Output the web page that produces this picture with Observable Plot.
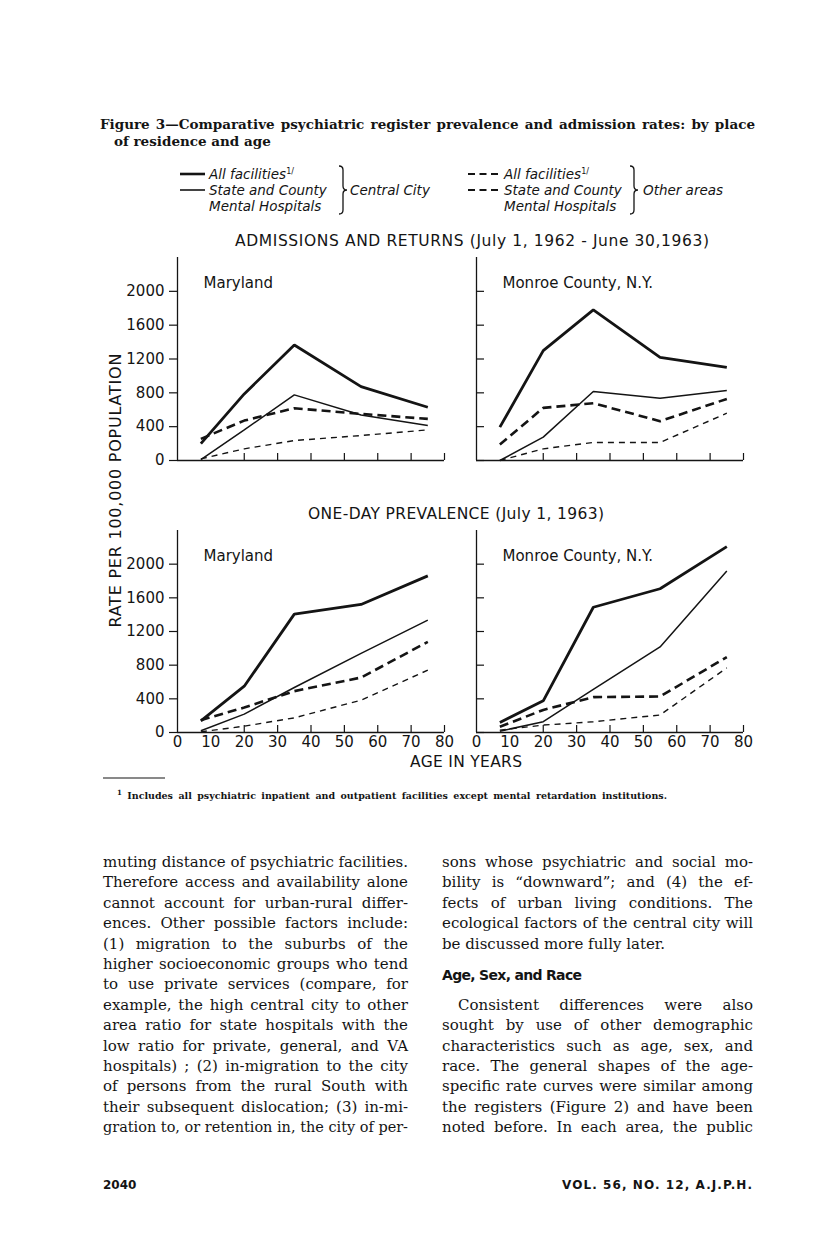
<!DOCTYPE html>
<html><head><meta charset="utf-8">
<script src="https://cdn.jsdelivr.net/npm/d3@7"></script>
<script src="https://cdn.jsdelivr.net/npm/@observablehq/plot@0.6"></script>
<style>
body{margin:0;background:#fff;}
#page{position:relative;width:816px;height:1236px;overflow:hidden;background:#fff;color:#141414;}
.abs{position:absolute;white-space:nowrap;line-height:1.2;}
.title{font-family:"DejaVu Serif";font-weight:bold;font-size:13.5px;}
.leg{font-family:"DejaVu Sans";font-style:italic;font-size:13.5px;}
.leg sup{font-size:8px;font-style:normal;}
.head{font-family:"DejaVu Sans";font-size:15.5px;}
.ytitle{font-family:"DejaVu Sans";font-size:16px;}
.body{font-family:"DejaVu Serif";font-size:15px;}
.foot{font-family:"DejaVu Serif";font-weight:bold;font-size:9.5px;}
.foot sup{font-size:7px;}
.sub{font-family:"DejaVu Sans";font-weight:bold;font-size:14px;}
.pg{font-family:"DejaVu Sans";font-weight:bold;font-size:12px;}
</style></head>
<body><div id="page"></div>
<script>
// ---------- data ----------
const ages = [7, 20, 35, 55, 75];
const yTicks = [0, 400, 800, 1200, 1600, 2000];
const xTickMarks = [20, 30, 40, 50, 60, 70, 80];
const xTickLabels = [0, 10, 20, 30, 40, 50, 60, 70, 80];
const seriesNames = ["All facilities — Central City", "State and County — Central City",
                     "All facilities — Other areas", "State and County — Other areas"];

// Admissions and returns, Maryland
const admMarylandAllCity    = [200, 787, 1366, 874, 630];
const admMarylandStateCity  = [10, 362, 776, 539, 413];
const admMarylandAllOther   = [256, 472, 618, 551, 492];
const admMarylandStateOther = [20, 138, 236, 295, 362];
// Admissions and returns, Monroe County
const admMonroeAllCity    = [394, 1299, 1780, 1220, 1102];
const admMonroeStateCity  = [0, 276, 815, 736, 827];
const admMonroeAllOther   = [189, 622, 677, 465, 728];
const admMonroeStateOther = [0, 138, 213, 213, 559];
// One-day prevalence, Maryland
const prevMarylandAllCity    = [139, 550, 1406, 1521, 1861];
const prevMarylandStateCity  = [20, 218, 535, 940, 1335];
const prevMarylandAllOther   = [147, 297, 491, 653, 1077];
const prevMarylandStateOther = [8, 75, 174, 384, 741];
// One-day prevalence, Monroe County
const prevMonroeAllCity    = [120, 376, 1488, 1708, 2208];
const prevMonroeStateCity  = [16, 128, 512, 1016, 1920];
const prevMonroeAllOther   = [68, 268, 420, 428, 896];
const prevMonroeStateOther = [28, 88, 128, 208, 768];

// ---------- text ----------
const titleLine1 = "Figure 3—Comparative psychiatric register prevalence and admission rates: by place";
const titleLine2 = "of residence and age";
const headAdm = "ADMISSIONS AND RETURNS (July 1, 1962 - June 30,1963)";
const headPrev = "ONE-DAY PREVALENCE (July 1, 1963)";
const yTitle = "RATE PER 100,000 POPULATION";
const xTitle = "AGE IN YEARS";
const footnote = "<sup>1</sup> Includes all psychiatric inpatient and outpatient facilities except mental retardation institutions.";
const bodyLeft = [
"muting distance of psychiatric facilities.",
"Therefore access and availability alone",
"cannot account for urban-rural differ-",
"ences. Other possible factors include:",
"(1) migration to the suburbs of the",
"higher socioeconomic groups who tend",
"to use private services (compare, for",
"example, the high central city to other",
"area ratio for state hospitals with the",
"low ratio for private, general, and VA",
"hospitals) ; (2) in-migration to the city",
"of persons from the rural South with",
"their subsequent dislocation; (3) in-mi-",
"gration to, or retention in, the city of per-"];
const bodyRightA = [
"sons whose psychiatric and social mo-",
"bility is “downward”; and (4) the ef-",
"fects of urban living conditions. The",
"ecological factors of the central city will",
"be discussed more fully later."];
const subHead = "Age, Sex, and Race";
const bodyRightB = [
"Consistent differences were also",
"sought by use of other demographic",
"characteristics such as age, sex, and",
"race. The general shapes of the age-",
"specific rate curves were similar among",
"the registers (Figure 2) and have been",
"noted before. In each area, the public"];

// ---------- layout helpers ----------
const ink = "#141414";
const page = document.getElementById("page");
function put(html, cls, x, y, opt = {}) {
  const d = document.createElement("div");
  d.className = "abs " + cls;
  d.innerHTML = html;
  page.appendChild(d);
  d.style.left = "0px"; d.style.top = "0px";
  if (opt.width) fit(d, opt.width, opt.mode || "words");
  const r = d.getBoundingClientRect();
  const w = opt.width || r.width;
  let left = x;
  if (opt.align === "center") left = x - w / 2;
  if (opt.align === "right") left = x - w;
  d.style.left = left + "px";
  d.style.top = (y - r.height / 2) + "px";
  return d;
}
function fit(d, width, mode) {
  const w = d.getBoundingClientRect().width;
  const txt = d.textContent;
  if (mode === "words") {
    const n = (txt.match(/ /g) || []).length;
    if (w <= width && n > 0) d.style.wordSpacing = ((width - w) / n) + "px";
    else if (w > width) { d.style.transformOrigin = "0 0"; d.style.transform = `scaleX(${width / w})`; }
  } else {
    const n = txt.length;
    d.style.letterSpacing = ((width - w) / (n - 1)) + "px";
  }
}

// ---------- title ----------
put(titleLine1, "title", 100, 124, {width: 655});
put(titleLine2, "title", 114, 141);

// ---------- legend ----------
const rows = [174, 190, 206];
put("All facilities<sup>1/</sup>", "leg", 209, rows[0]);
put("State and County", "leg", 209, rows[1]);
put("Mental Hospitals", "leg", 209, rows[2]);
put("Central City", "leg", 350, rows[1]);
put("All facilities<sup>1/</sup>", "leg", 504, rows[0]);
put("State and County", "leg", 504, rows[1]);
put("Mental Hospitals", "leg", 504, rows[2]);
put("Other areas", "leg", 643, rows[1]);
const NS = "http://www.w3.org/2000/svg";
const deco = document.createElementNS(NS, "svg");
deco.setAttribute("width", 816); deco.setAttribute("height", 1236);
deco.style.position = "absolute"; deco.style.left = "0"; deco.style.top = "0";
function seg(x1, y1, x2, y2, w, dash) {
  const l = document.createElementNS(NS, "line");
  l.setAttribute("x1", x1); l.setAttribute("y1", y1); l.setAttribute("x2", x2); l.setAttribute("y2", y2);
  l.setAttribute("stroke", ink); l.setAttribute("stroke-width", w);
  if (dash) l.setAttribute("stroke-dasharray", dash);
  deco.appendChild(l);
}
function brace(x, y1, y2) {
  const p = document.createElementNS(NS, "path");
  const m = (y1 + y2) / 2;
  p.setAttribute("d", `M${x},${y1} q4,0 4,4 V${m - 4} q0,4 4,4 q-4,0 -4,4 V${y2 - 4} q0,4 -4,4`);
  p.setAttribute("fill", "none"); p.setAttribute("stroke", ink); p.setAttribute("stroke-width", 1.3);
  deco.appendChild(p);
}
seg(180, rows[0], 205, rows[0], 2.6);
seg(180, rows[1], 205, rows[1], 1.6);
seg(468, rows[0], 500, rows[0], 2.2, "7,4.5");
seg(468, rows[1], 500, rows[1], 2.0, "7,4.5");
brace(339, rows[0] - 8, rows[2] + 8);
brace(630, rows[0] - 8, rows[2] + 8);
seg(103, 778, 165, 778, 1.2);
page.appendChild(deco);

// ---------- chart headings ----------
put(headAdm, "head", 472, 241, {width: 474, mode: "letters", align: "center"});
put(headPrev, "head", 456, 514, {width: 296, mode: "letters", align: "center"});
put(xTitle, "head", 466, 762, {width: 112, mode: "letters", align: "center"});
const yt = put(yTitle, "ytitle", 0, 0, {width: 274, mode: "letters"});
{
  const r = yt.getBoundingClientRect();
  yt.style.left = (116 - 274 / 2) + "px";
  yt.style.top = (491 - r.height / 2) + "px";
  yt.style.transform = "rotate(-90deg)";
  yt.style.transformOrigin = "137px 50%";
}

// ---------- panels ----------
const lineStyles = [
  {strokeWidth: 2.8},
  {strokeWidth: 1.5},
  {strokeWidth: 2.6, strokeDasharray: "9,5"},
  {strokeWidth: 1.4, strokeDasharray: "6,5"}
];
function panel(series, label, side, withLabels, frameLeft, frameTop, frameH) {
  const isLeft = side === "left";
  const mL = isLeft ? 80 : 16, mR = 14, mT = 4, mB = withLabels ? 28 : 4;
  const frameW = 267;
  const marks = [
    Plot.ruleX([0], {stroke: ink, strokeWidth: 1.3}),
    Plot.ruleY([0], {stroke: ink, strokeWidth: 1.3}),
    Plot.axisY(yTicks, {anchor: "left", tickSize: isLeft ? 8 : -8, tickPadding: 5, strokeWidth: 1.2,
      tickFormat: isLeft ? (d => String(d)) : (() => ""), label: null, fontSize: 15}),
    Plot.axisX(xTickMarks, {anchor: "bottom", tickSize: -7, tickFormat: () => "", label: null, strokeWidth: 1.2})
  ];
  if (withLabels) marks.push(Plot.axisX(xTickLabels, {anchor: "bottom", tickSize: 0, tickPadding: 4,
      tickFormat: d => String(d), label: null, fontSize: 15}));
  series.forEach((vals, i) => {
    marks.push(Plot.line(ages.map((a, j) => ({age: a, rate: vals[j], series: seriesNames[i]})),
      {x: "age", y: "rate", stroke: ink, strokeLinejoin: "miter", strokeLinecap: "butt", ...lineStyles[i]}));
  });
  marks.push(Plot.text([label], {frameAnchor: "top-left", dx: 26, dy: 20, fontSize: 15, fill: ink}));
  const chart = Plot.plot({
    width: mL + frameW + mR, height: mT + frameH + mB,
    marginLeft: mL, marginRight: mR, marginTop: mT, marginBottom: mB,
    x: {domain: [0, 80], label: null},
    y: {domain: [0, 2400], label: null},
    style: {background: "transparent", fontFamily: "DejaVu Sans", fontSize: "15px", color: ink, overflow: "visible"},
    marks
  });
  chart.style.position = "absolute";
  chart.style.left = (frameLeft - mL) + "px";
  chart.style.top = (frameTop - mT) + "px";
  page.appendChild(chart);
}
panel([admMarylandAllCity, admMarylandStateCity, admMarylandAllOther, admMarylandStateOther],
      "Maryland", "left", false, 177, 257, 203);
panel([admMonroeAllCity, admMonroeStateCity, admMonroeAllOther, admMonroeStateOther],
      "Monroe County, N.Y.", "right", false, 476, 257, 203);
panel([prevMarylandAllCity, prevMarylandStateCity, prevMarylandAllOther, prevMarylandStateOther],
      "Maryland", "left", true, 177, 530, 202);
panel([prevMonroeAllCity, prevMonroeStateCity, prevMonroeAllOther, prevMonroeStateOther],
      "Monroe County, N.Y.", "right", true, 476, 530, 202);

// ---------- footnote ----------
put(footnote, "foot", 117, 795, {width: 550});

// ---------- body text ----------
const lineH = 20.4, top0 = 862;
bodyLeft.forEach((t, k) => put(t, "body", 103, top0 + k * lineH, {width: 305}));
bodyRightA.forEach((t, k) => put(t, "body", 442, top0 + k * lineH, k < bodyRightA.length - 1 ? {width: 311} : {}));
put(subHead, "sub", 442, top0 + 5.55 * lineH, {width: 140, mode: "letters"});
bodyRightB.forEach((t, k) => {
  const ind = k === 0 ? 16 : 0;
  put(t, "body", 442 + ind, top0 + (7 + k) * lineH, {width: 311 - ind});
});

// ---------- page footer ----------
put("2040", "pg", 103, 1185);
put("VOL. 56, NO. 12, A.J.P.H.", "pg", 752, 1185, {width: 190, mode: "letters", align: "right"});
</script>
</body></html>
